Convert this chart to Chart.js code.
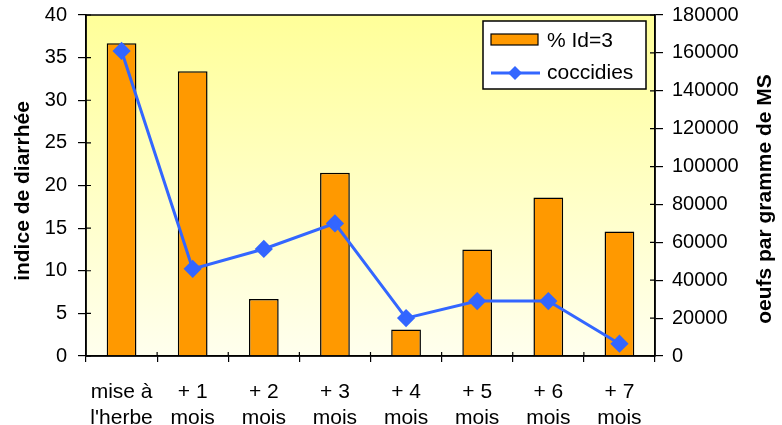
<!DOCTYPE html>
<html>
<head>
<meta charset="utf-8">
<script src="https://cdn.jsdelivr.net/npm/chart.js@4/dist/chart.umd.min.js"></script>
<style>
  html, body { margin: 0; padding: 0; background: #ffffff; }
  #wrap { width: 782px; height: 425px; }
</style>
</head>
<body>
<div id="wrap"><canvas id="c" width="782" height="425"></canvas></div>
<script>
// Periods after turn-out to pasture
const categories = [
  ['mise à', "l'herbe"],
  ['+ 1', 'mois'], ['+ 2', 'mois'], ['+ 3', 'mois'], ['+ 4', 'mois'],
  ['+ 5', 'mois'], ['+ 6', 'mois'], ['+ 7', 'mois']
];
// % of animals with diarrhoea index = 3
const diarrhoeaPct = [36.7, 33.4, 6.7, 21.5, 3.1, 12.5, 18.6, 14.6];
// coccidia oocysts per gram of dry matter
const coccidia = [161000, 46000, 56500, 70000, 20000, 29000, 29000, 6500];

const leftTicks = { min: 0, max: 40, step: 5 };
const rightTicks = { min: 0, max: 180000, step: 20000 };
const axisTitles = { left: 'indice de diarrhée', right: 'oeufs par gramme de MS' };

const FAMILY = 'Liberation Sans, Arial, sans-serif';
const tickFont = { family: FAMILY, size: 20 };
const catFont = { family: FAMILY, size: 21, lineHeight: 1.25 };

// Yellow gradient behind the plot area
const plotBackground = {
  id: 'plotBackground',
  beforeDraw(chart) {
    const { ctx, chartArea: a } = chart;
    const g = ctx.createLinearGradient(0, a.top, 0, a.bottom);
    g.addColorStop(0, '#ffff99');
    g.addColorStop(1, '#ffffee');
    ctx.save();
    ctx.fillStyle = g;
    ctx.fillRect(a.left, a.top, a.right - a.left, a.bottom - a.top);
    ctx.restore();
  }
};

// Frame, inner halves of the crossing tick marks, and vertical axis titles
const frameTicks = {
  id: 'frameTicks',
  afterDatasetsDraw(chart) {
    const { ctx, chartArea: a, scales } = chart;
    ctx.save();
    ctx.strokeStyle = '#000';
    ctx.lineWidth = 1.5;
    ctx.strokeRect(a.left, a.top, a.right - a.left, a.bottom - a.top);
    ctx.lineWidth = 1.2;
    ctx.beginPath();
    scales.y.ticks.forEach((t, i) => {
      const y = scales.y.getPixelForTick(i);
      ctx.moveTo(a.left, y); ctx.lineTo(a.left + 5, y);
    });
    scales.y1.ticks.forEach((t, i) => {
      const y = scales.y1.getPixelForTick(i);
      ctx.moveTo(a.right - 5, y); ctx.lineTo(a.right, y);
    });
    const n = categories.length;
    for (let i = 1; i < n; i++) {
      const x = a.left + (a.right - a.left) * i / n;
      ctx.moveTo(x, a.bottom - 4); ctx.lineTo(x, a.bottom);
    }
    ctx.stroke();

    // both titles read bottom-to-top
    ctx.fillStyle = '#000';
    ctx.font = 'bold 21px ' + FAMILY;
    ctx.textAlign = 'center';
    ctx.textBaseline = 'middle';
    const drawTitle = (text, x, y) => {
      ctx.save();
      ctx.translate(x, y);
      ctx.rotate(-Math.PI / 2);
      ctx.fillText(text, 0, 0);
      ctx.restore();
    };
    drawTitle(axisTitles.left, 23, 191);
    drawTitle(axisTitles.right, 765, 199);
    ctx.restore();
  }
};

// Boxed legend in the upper right of the plot
const boxLegend = {
  id: 'boxLegend',
  afterDraw(chart) {
    const { ctx } = chart;
    const ds = chart.data.datasets;
    const x = 483, y = 21, w = 163, h = 68;
    ctx.save();
    ctx.fillStyle = '#ffffff';
    ctx.fillRect(x, y, w, h);
    ctx.strokeStyle = '#000';
    ctx.lineWidth = 1.5;
    ctx.strokeRect(x, y, w, h);
    // bar swatch
    ctx.fillStyle = ds[0].backgroundColor;
    ctx.fillRect(x + 8, y + 13, 47, 11);
    ctx.lineWidth = 1.2;
    ctx.strokeRect(x + 8, y + 13, 47, 11);
    // line swatch
    const ly = y + 52;
    ctx.strokeStyle = ds[1].borderColor;
    ctx.lineWidth = 3;
    ctx.beginPath(); ctx.moveTo(x + 8, ly); ctx.lineTo(x + 57, ly); ctx.stroke();
    ctx.fillStyle = ds[1].pointBackgroundColor;
    const cx = x + 32, r = 7;
    ctx.beginPath();
    ctx.moveTo(cx, ly - r); ctx.lineTo(cx + r, ly); ctx.lineTo(cx, ly + r); ctx.lineTo(cx - r, ly);
    ctx.closePath(); ctx.fill();
    // labels
    ctx.fillStyle = '#000';
    ctx.font = '21px ' + FAMILY;
    ctx.textBaseline = 'middle';
    ctx.fillText(ds[0].label, x + 64, y + 20);
    ctx.fillText(ds[1].label, x + 64, ly);
    ctx.restore();
  }
};

const fitVertical = width => s => { s.width = width; s.paddingTop = 0; s.paddingBottom = 0; };

new Chart(document.getElementById('c'), {
  data: {
    labels: categories,
    datasets: [
      {
        type: 'bar',
        label: '% Id=3',
        data: diarrhoeaPct,
        yAxisID: 'y',
        backgroundColor: '#ff9900',
        borderColor: '#000000',
        borderWidth: 1.5,
        borderSkipped: 'bottom',
        categoryPercentage: 0.82,
        barPercentage: 0.51,
        order: 2
      },
      {
        type: 'line',
        label: 'coccidies',
        data: coccidia,
        yAxisID: 'y1',
        borderColor: '#3366ff',
        backgroundColor: '#3366ff',
        pointBackgroundColor: '#3366ff',
        pointBorderColor: '#3366ff',
        borderWidth: 3,
        pointStyle: 'rectRot',
        pointRadius: 7,
        tension: 0,
        order: 1
      }
    ]
  },
  options: {
    responsive: false,
    animation: false,
    events: [],
    layout: { padding: { top: 15, left: 0, right: 0, bottom: 0 } },
    plugins: { legend: { display: false }, tooltip: { enabled: false } },
    scales: {
      x: {
        offset: true,
        grid: { offset: true, drawOnChartArea: false, color: '#000', tickLength: 6, lineWidth: 1.2 },
        border: { display: true, color: '#000', width: 1.5 },
        ticks: { font: catFont, color: '#000', padding: 17, maxRotation: 0, autoSkip: false },
        afterFit(s) { s.height = 69; s.paddingLeft = 0; s.paddingRight = 0; }
      },
      y: {
        position: 'left',
        min: leftTicks.min, max: leftTicks.max,
        grid: { drawOnChartArea: false, color: '#000', tickLength: 8, lineWidth: 1.2 },
        border: { display: true, color: '#000', width: 1.5 },
        ticks: { stepSize: leftTicks.step, font: tickFont, color: '#000', padding: 11 },
        afterFit: fitVertical(86)
      },
      y1: {
        position: 'right',
        min: rightTicks.min, max: rightTicks.max,
        grid: { drawOnChartArea: false, color: '#000', tickLength: 8, lineWidth: 1.2 },
        border: { display: true, color: '#000', width: 1.5 },
        ticks: { stepSize: rightTicks.step, font: tickFont, color: '#000', padding: 9,
                 callback: v => String(v) },
        afterFit: fitVertical(127)
      }
    }
  },
  plugins: [plotBackground, frameTicks, boxLegend]
});
</script>
</body>
</html>
